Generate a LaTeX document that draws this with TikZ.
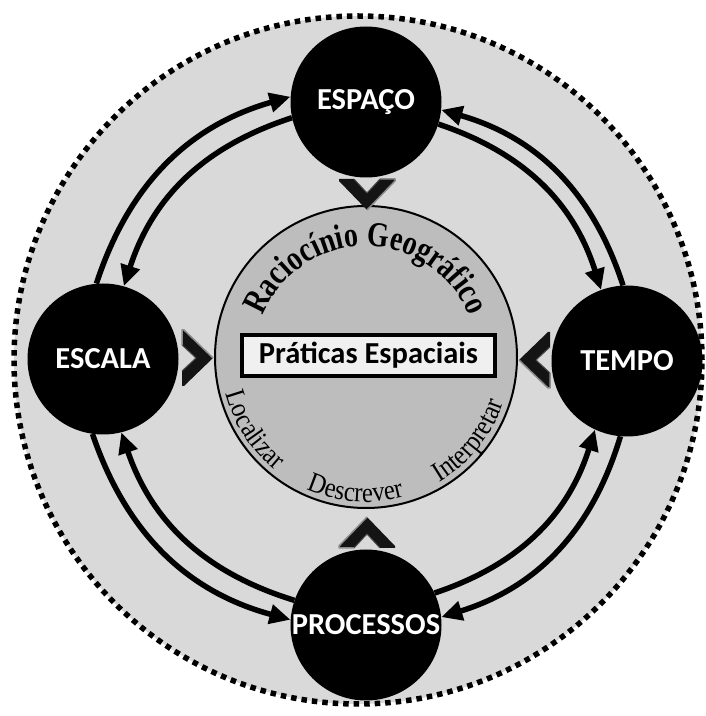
\documentclass[tikz,border=0pt]{standalone}
\usepackage{fontspec}
\newfontfamily\calfont{Carlito}
\newfontfamily\serfontT[FakeStretch=0.8]{Liberation Serif}
\newfontfamily\serfontB[FakeStretch=0.88]{Liberation Serif}
\usetikzlibrary{arrows.meta,decorations.text}
\newcommand\topfont{\serfontT\bfseries\fontsize{35}{35}\selectfont}
\newcommand\botfont{\serfontB\fontsize{28}{28}\selectfont}
\begin{document}
\begin{tikzpicture}[x=1pt,y=1pt,
  bignode/.style={circle, fill=black, minimum size=151pt, inner sep=0pt, text=white,
    font=\calfont\bfseries\fontsize{30.5}{36}\selectfont},
  arr/.style={line width=5.5pt, -{Triangle[length=21pt,width=19pt]}},
  chev/.pic={
    \fill[black!92] (-28,0)--(-13,0)--(0,-14)--(13,0)--(28,0)--(28,-2)--(0,-31)--(-28,-2)--cycle;
    \draw[black!45, line width=1.5pt, line join=round] (13,0)--(28,0)--(28,-2)--(0,-31);
    \draw[black!70, line width=1pt, line join=round] (-13,0)--(0,-14)--(13,0);}]
\useasboundingbox (0,0) rectangle (706,716);
\fill[white] (0,0) rectangle (706,716);
% outer dotted disc
\draw[fill=black!15, line width=5.5pt, dash pattern=on 5.5pt off 5pt] (358,356) circle[radius=344];
% central disc
\node[circle, draw, line width=2pt, fill=black!26, minimum size=302pt, inner sep=0pt] (core) at (366,359) {};
\node[draw, line width=4pt, fill=black!6, minimum width=253pt, minimum height=41pt, inner sep=0pt,
  font=\calfont\bfseries\fontsize{30.5}{36}\selectfont] (pr) at (368.5,360.5) {Práticas Espaciais};
% curved texts
\path[decoration={text along path, text={|\topfont|Raciocínio Geográfico}, text align=center}, decorate]
  (core.center) ++(178:111) arc[start angle=178, end angle=2, radius=111];
\path[decoration={text along path, text={|\botfont|Localizar}, text align=center}, decorate]
  (core.center) ++(183:145) arc[start angle=183, end angle=243, radius=145];
\path[decoration={text along path, text={|\botfont|Descrever}, text align=center}, decorate]
  (core.center) ++(235.5:145) arc[start angle=235.5, end angle=295.5, radius=145];
\path[decoration={text along path, text={|\botfont|Interpretar}, text align=center}, decorate]
  (core.center) ++(291:145) arc[start angle=291, end angle=351, radius=145];
% main nodes
\node[bignode] (espaco) at (366,614) {ESPAÇO};
\node[bignode] (escala) at (103,357) {ESCALA};
\node[bignode] (tempo) at (627,355) {TEMPO};
\node[bignode] (processos) at (366,91) {PROCESSOS};
% chevrons
\pic at (367,537) {chev};
\pic[rotate=180] at (367,168) {chev};
\pic[rotate=90] at (182,358) {chev};
\pic[rotate=-90] at (550,356) {chev};
% arrows
\draw[arr] (escala.95) to[bend left=28] (espaco.176);
\draw[arr] (espaco.192) to[bend right=27] (escala.74);
\draw[arr] (tempo.93) to[bend right=28] (espaco.354);
\draw[arr] (espaco.343) to[bend left=27] (tempo.110);
\draw[arr] (escala.262) to[bend right=28] (processos.176);
\draw[arr] (processos.161) to[bend left=27] (escala.284);
\draw[arr] (tempo.265) to[bend left=28] (processos.6);
\draw[arr] (processos.25) to[bend right=27] (tempo.245);
\end{tikzpicture}
\end{document}
